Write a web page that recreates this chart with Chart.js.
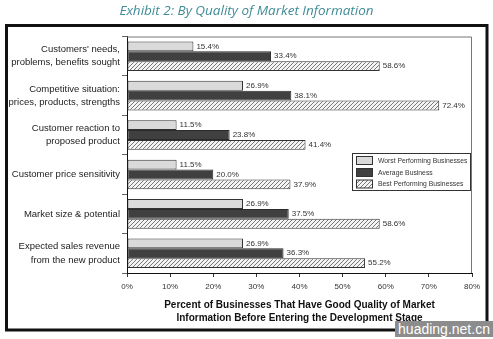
<!DOCTYPE html>
<html><head><meta charset="utf-8">
<script src="https://cdn.jsdelivr.net/npm/chart.js@4.4.0/dist/chart.umd.min.js"></script>
<style>
html,body{margin:0;padding:0;background:#fff;}
#wrap{width:493px;height:339px;position:relative;overflow:hidden;}
#title{position:absolute;left:0;top:2px;width:493px;text-align:center;font:italic 13.5px "Open Sans","Noto Sans",sans-serif;color:#3f8c96;line-height:16px;white-space:nowrap;}
#wm{position:absolute;left:395px;top:321px;width:98px;height:16px;background:#8c8c8c;color:#fff;font:14px "Liberation Sans",Arial,sans-serif;line-height:16px;text-align:center;}
canvas{position:absolute;left:0;top:0;}
</style>
</head><body>
<div id="wrap">
<canvas id="c" width="493" height="339"></canvas>
<div id="title">Exhibit 2: By Quality of Market Information</div>
<div id="wm">huading.net.cn</div>
</div>
<script>
const categories = [
  ["Customers' needs,", "problems, benefits sought"],
  ["Competitive situation:", "prices, products, strengths"],
  ["Customer reaction to", "proposed product"],
  "Customer price sensitivity",
  "Market size & potential",
  ["Expected sales revenue", "from the new product"]
];
const worstValues = [15.4, 26.9, 11.5, 11.5, 26.9, 26.9];
const averageValues = [33.4, 38.1, 23.8, 20.0, 37.5, 36.3];
const bestValues = [58.6, 72.4, 41.4, 37.9, 58.6, 55.2];
const seriesNames = ["Worst Performing Businesses", "Average Business", "Best Performing Businesses"];
const xAxisTitle = ["Percent of Businesses That Have Good Quality of Market", "Information Before Entering the Development Stage"];
const xMin = 0, xMax = 80, xStep = 10;

const FONT = '"Liberation Sans", Arial, sans-serif';

function makeHatch() {
  const s = 4;
  const p = document.createElement('canvas');
  p.width = s; p.height = s;
  const g = p.getContext('2d');
  g.fillStyle = '#f4f4f4';
  g.fillRect(0, 0, s, s);
  g.strokeStyle = '#777';
  g.lineWidth = 1;
  g.beginPath();
  g.moveTo(-1, s + 1); g.lineTo(s + 1, -1);
  g.moveTo(-1, 1); g.lineTo(1, -1);
  g.moveTo(s - 1, s + 1); g.lineTo(s + 1, s - 1);
  g.stroke();
  return document.getElementById('c').getContext('2d').createPattern(p, 'repeat');
}
const hatch = makeHatch();

const valueLabels = {
  id: 'valueLabels',
  afterDatasetsDraw(chart) {
    const ctx = chart.ctx;
    ctx.save();
    ctx.font = '8px ' + FONT;
    ctx.fillStyle = '#333';
    ctx.textAlign = 'left';
    ctx.textBaseline = 'middle';
    chart.data.datasets.forEach((ds, i) => {
      chart.getDatasetMeta(i).data.forEach((bar, j) => {
        ctx.fillText(ds.data[j].toFixed(1) + '%', bar.x + 3, bar.y);
      });
    });
    ctx.restore();
  }
};

const decorations = {
  id: 'decorations',
  afterDraw(chart) {
    const ctx = chart.ctx;
    const a = chart.chartArea;
    ctx.save();
    ctx.strokeStyle = '#777';
    ctx.lineWidth = 1;
    ctx.beginPath();
    ctx.moveTo(a.left, a.top + 0.5); ctx.lineTo(a.right - 0.5, a.top + 0.5); ctx.lineTo(a.right - 0.5, a.bottom);
    ctx.stroke();
    ctx.strokeStyle = '#111';
    ctx.lineWidth = 3;
    ctx.strokeRect(6.5, 25.5, 480.5, 304.5);
    const lx = 352.5, ly = 153.5, lw = 118, lh = 37;
    ctx.fillStyle = '#fff';
    ctx.fillRect(lx, ly, lw, lh);
    ctx.strokeStyle = '#333';
    ctx.lineWidth = 1;
    ctx.strokeRect(lx, ly, lw, lh);
    ctx.font = '8px ' + FONT;
    ctx.textAlign = 'left';
    ctx.textBaseline = 'middle';
    const rows = [160.5, 172.5, 184];
    chart.data.datasets.forEach((ds, i) => {
      const y = rows[i];
      ctx.fillStyle = ds.backgroundColor;
      ctx.fillRect(356.5, y - 4, 16, 8);
      ctx.strokeStyle = '#333';
      ctx.strokeRect(356.5, y - 4, 16, 8);
      ctx.fillStyle = '#333';
      ctx.save();
      ctx.translate(378, y);
      ctx.scale(0.85, 1);
      ctx.fillText(ds.label, 0, 0);
      ctx.restore();
    });
    ctx.restore();
  }
};

new Chart(document.getElementById('c'), {
  type: 'bar',
  data: {
    labels: categories,
    datasets: [
      { label: seriesNames[0], data: worstValues, backgroundColor: '#dadada', borderColor: '#333', borderWidth: 1, borderSkipped: false },
      { label: seriesNames[1], data: averageValues, backgroundColor: '#404040', borderColor: '#2a2a2a', borderWidth: 1, borderSkipped: false },
      { label: seriesNames[2], data: bestValues, backgroundColor: hatch, borderColor: '#333', borderWidth: 1, borderSkipped: false }
    ]
  },
  options: {
    indexAxis: 'y',
    responsive: false,
    animation: false,
    devicePixelRatio: 1,
    layout: { padding: { left: 0, right: 21, top: 36.5, bottom: 0 } },
    datasets: { bar: { categoryPercentage: 0.75, barPercentage: 1 } },
    plugins: { legend: { display: false }, title: { display: false }, tooltip: { enabled: false } },
    scales: {
      x: {
        min: xMin, max: xMax,
        ticks: { stepSize: xStep, callback: v => v + '%', color: '#333', font: { family: FONT, size: 8 }, padding: 5, maxRotation: 0 },
        grid: { drawOnChartArea: false, drawTicks: true, tickLength: 4, color: '#333' },
        border: { color: '#111', width: 1 },
        title: { display: true, text: xAxisTitle, color: '#111', font: { family: FONT, size: 10, weight: 'bold', lineHeight: 1.3 }, padding: { top: 0, bottom: 14 } },
        afterFit: s => { s.height = 66; }
      },
      y: {
        ticks: { color: '#222', font: { family: FONT, size: 9.5, lineHeight: 1.4 }, padding: 2, autoSkip: false },
        grid: { drawOnChartArea: false, drawTicks: true, tickLength: 5, color: '#666', offset: true },
        border: { color: '#111', width: 1 },
        afterFit: s => { s.width = 127; }
      }
    }
  },
  plugins: [valueLabels, decorations]
});
</script>
</body></html>
